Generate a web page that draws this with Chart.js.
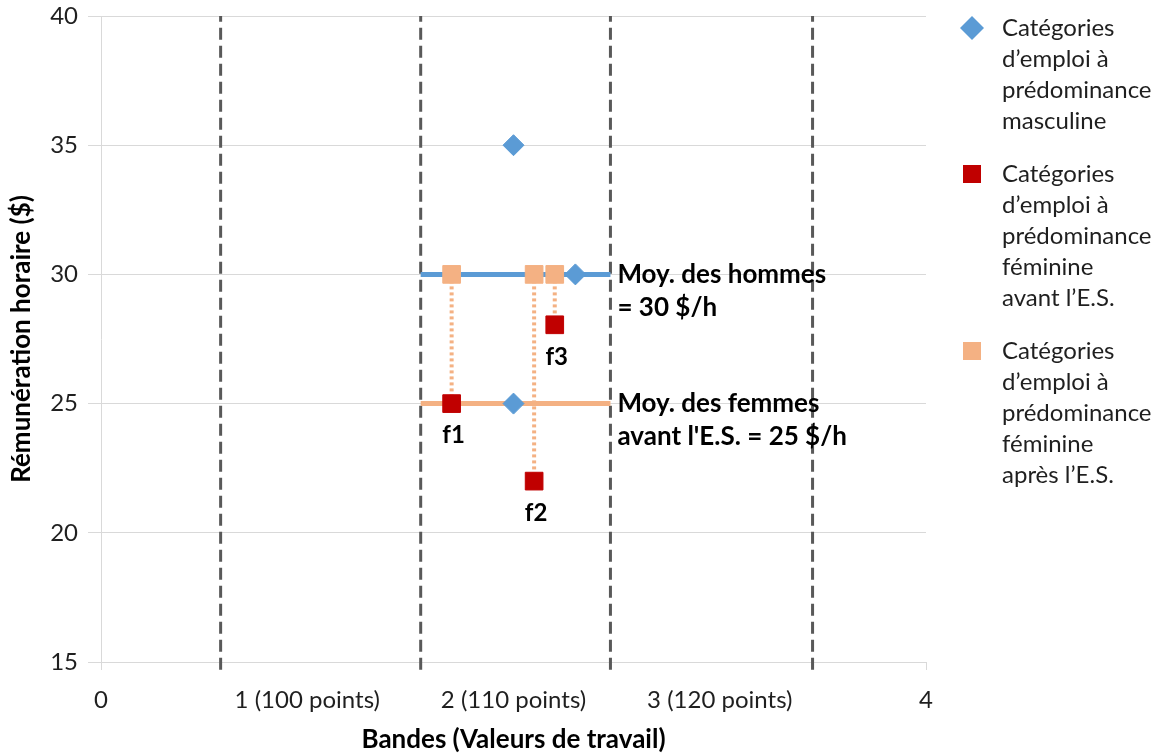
<!DOCTYPE html>
<html>
<head>
<meta charset="utf-8">
<script src="https://cdn.jsdelivr.net/npm/chart.js@4"></script>
<style>
  html, body { margin: 0; padding: 0; background: #fff; }
</style>
</head>
<body>
<canvas id="payChart" width="1159" height="755"></canvas>
<script>
// x scale: band ticks and boundaries (dashed lines)
const xTickLabels = ['0', '1 (100 points)', '2 (110 points)', '3 (120 points)', '4'];
const bandEdges = [0.58, 1.55, 2.47, 3.45];

// Male-dominated job classes
const maleX = [2.0, 2.0, 2.3];
const maleY = [35, 25, 30];

// Female-dominated job classes, before and after pay equity
const femaleNames = ['f1', 'f2', 'f3'];
const femaleX = [1.7, 2.1, 2.2];
const femaleBeforeY = [25, 22, 28.05];
const femaleAfterY = [30, 30, 30];

// Averages drawn across band 2
const avgRange = [1.55, 2.47];
const avgValues = [30, 25];
const avgLabels = [
  ['Moy. des hommes', '= 30 $/h'],
  ['Moy. des femmes', "avant l'E.S. = 25 $/h"]
];

const legendLines = [
  ['Catégories', 'd’emploi à', 'prédominance', 'masculine'],
  ['Catégories', 'd’emploi à', 'prédominance', 'féminine', 'avant l’E.S.'],
  ['Catégories', 'd’emploi à', 'prédominance', 'féminine', 'après l’E.S.']
];

const BLUE = '#5B9BD5';
const RED = '#C00000';
const ORANGE = '#F4B183';
const DASH = '#595959';
const TEXT = '#1f1f1f';

const toPoints = (xs, ys) => xs.map((x, i) => ({ x: x, y: ys[i] }));

const datasets = [
  {
    label: 'masculine',
    data: toPoints(maleX, maleY),
    pointStyle: 'rectRot',
    pointRadius: 10.5,
    backgroundColor: BLUE,
    borderColor: BLUE,
    borderWidth: 1,
    order: 0
  },
  {
    label: 'féminine avant',
    data: toPoints(femaleX, femaleBeforeY),
    pointStyle: 'rect',
    pointRadius: 12.5,
    backgroundColor: RED,
    borderColor: RED,
    borderWidth: 1,
    order: 0
  },
  {
    label: 'féminine après',
    data: toPoints(femaleX, femaleAfterY),
    pointStyle: 'rect',
    pointRadius: 12.5,
    backgroundColor: ORANGE,
    borderColor: ORANGE,
    borderWidth: 1,
    order: 0
  }
];

// Average lines
avgValues.forEach((v, i) => {
  datasets.push({
    label: 'avg' + i,
    data: avgRange.map(x => ({ x: x, y: v })),
    showLine: true,
    borderColor: i === 0 ? BLUE : ORANGE,
    borderWidth: 5,
    pointRadius: 0,
    order: 2
  });
});

// Dotted connectors from after to before
femaleX.forEach((x, i) => {
  datasets.push({
    label: 'link' + i,
    data: [{ x: x, y: femaleAfterY[i] }, { x: x, y: femaleBeforeY[i] }],
    showLine: true,
    borderColor: ORANGE,
    borderWidth: 4,
    borderDash: [3, 3],
    pointRadius: 0,
    order: 1
  });
});

// Dashed band boundaries
bandEdges.forEach((x, i) => {
  datasets.push({
    label: 'edge' + i,
    data: [{ x: x, y: 14.7 }, { x: x, y: 40 }],
    showLine: true,
    borderColor: DASH,
    borderWidth: 3,
    borderDash: [12, 6],
    pointRadius: 0,
    clip: false,
    order: 3
  });
});

const overlayPlugin = {
  id: 'overlay',
  afterDatasetsDraw(chart) {
    const { ctx, scales: { x, y } } = chart;
    ctx.save();
    ctx.textBaseline = 'middle';

    // average labels
    ctx.font = 'bold 26px Lato';
    ctx.fillStyle = '#000';
    ctx.textAlign = 'left';
    avgLabels.forEach((lines, i) => {
      const px = x.getPixelForValue(avgRange[1]) + 7;
      const py = y.getPixelForValue(avgValues[i]);
      lines.forEach((t, j) => ctx.fillText(t, px, py + j * 33));
    });

    // f1..f3 under the red squares
    ctx.font = 'bold 24px Lato';
    ctx.textAlign = 'center';
    femaleNames.forEach((t, i) => {
      ctx.fillText(t, x.getPixelForValue(femaleX[i]) + 2, y.getPixelForValue(femaleBeforeY[i]) + 32);
    });

    // legend on the right
    const mx = chart.chartArea.right + 46;
    const tx = chart.chartArea.right + 76;
    let ly = 28;
    ctx.font = '24px Lato';
    ctx.textAlign = 'left';
    legendLines.forEach((lines, i) => {
      const ds = chart.data.datasets[i];
      ctx.fillStyle = ds.backgroundColor;
      if (ds.pointStyle === 'rectRot') {
        ctx.beginPath();
        ctx.moveTo(mx - 12, ly);
        ctx.lineTo(mx, ly - 12);
        ctx.lineTo(mx + 12, ly);
        ctx.lineTo(mx, ly + 12);
        ctx.closePath();
        ctx.fill();
      } else {
        ctx.fillRect(mx - 9, ly - 9, 18, 18);
      }
      ctx.fillStyle = TEXT;
      lines.forEach((t, j) => ctx.fillText(t, tx, ly + j * 31));
      ly += lines.length * 31 + 22;
    });
    ctx.restore();
  }
};

new Chart(document.getElementById('payChart'), {
  type: 'scatter',
  data: { datasets: datasets },
  plugins: [overlayPlugin],
  options: {
    responsive: false,
    animation: false,
    layout: { padding: { top: 16, right: 233, bottom: 0, left: 0 } },
    plugins: {
      legend: { display: false },
      tooltip: { enabled: false }
    },
    scales: {
      x: {
        type: 'linear',
        min: 0,
        max: 4,
        afterFit: s => { s.height = 93; s.paddingLeft = 0; s.paddingRight = 0; },
        ticks: {
          stepSize: 1,
          padding: 16,
          color: TEXT,
          font: { family: 'Lato', size: 24 },
          maxRotation: 0,
          autoSkip: false,
          callback: v => xTickLabels[v] !== undefined ? xTickLabels[v] : ''
        },
        grid: {
          drawOnChartArea: false,
          tickLength: 8,
          color: c => (c.tick && (c.tick.value === 0 || c.tick.value === 4)) ? '#d9d9d9' : 'rgba(0,0,0,0)'
        },
        border: { color: '#d9d9d9', width: 1 },
        title: {
          display: true,
          text: 'Bandes (Valeurs de travail)',
          color: '#000',
          font: { family: 'Lato', size: 26, weight: 'bold' },
          padding: { top: 0, bottom: 0 }
        }
      },
      y: {
        min: 15,
        max: 40,
        afterFit: s => { s.width = 101; s.paddingTop = 0; s.paddingBottom = 0; },
        ticks: {
          stepSize: 5,
          padding: 10,
          color: TEXT,
          font: { family: 'Lato', size: 24 }
        },
        grid: { color: '#d9d9d9', tickLength: 13 },
        border: { color: '#d9d9d9', width: 1 },
        title: {
          display: true,
          text: 'Rémunération horaire ($)',
          color: '#000',
          font: { family: 'Lato', size: 26, weight: 'bold' },
          padding: { top: 6, bottom: 0 }
        }
      }
    }
  }
});
</script>
</body>
</html>
